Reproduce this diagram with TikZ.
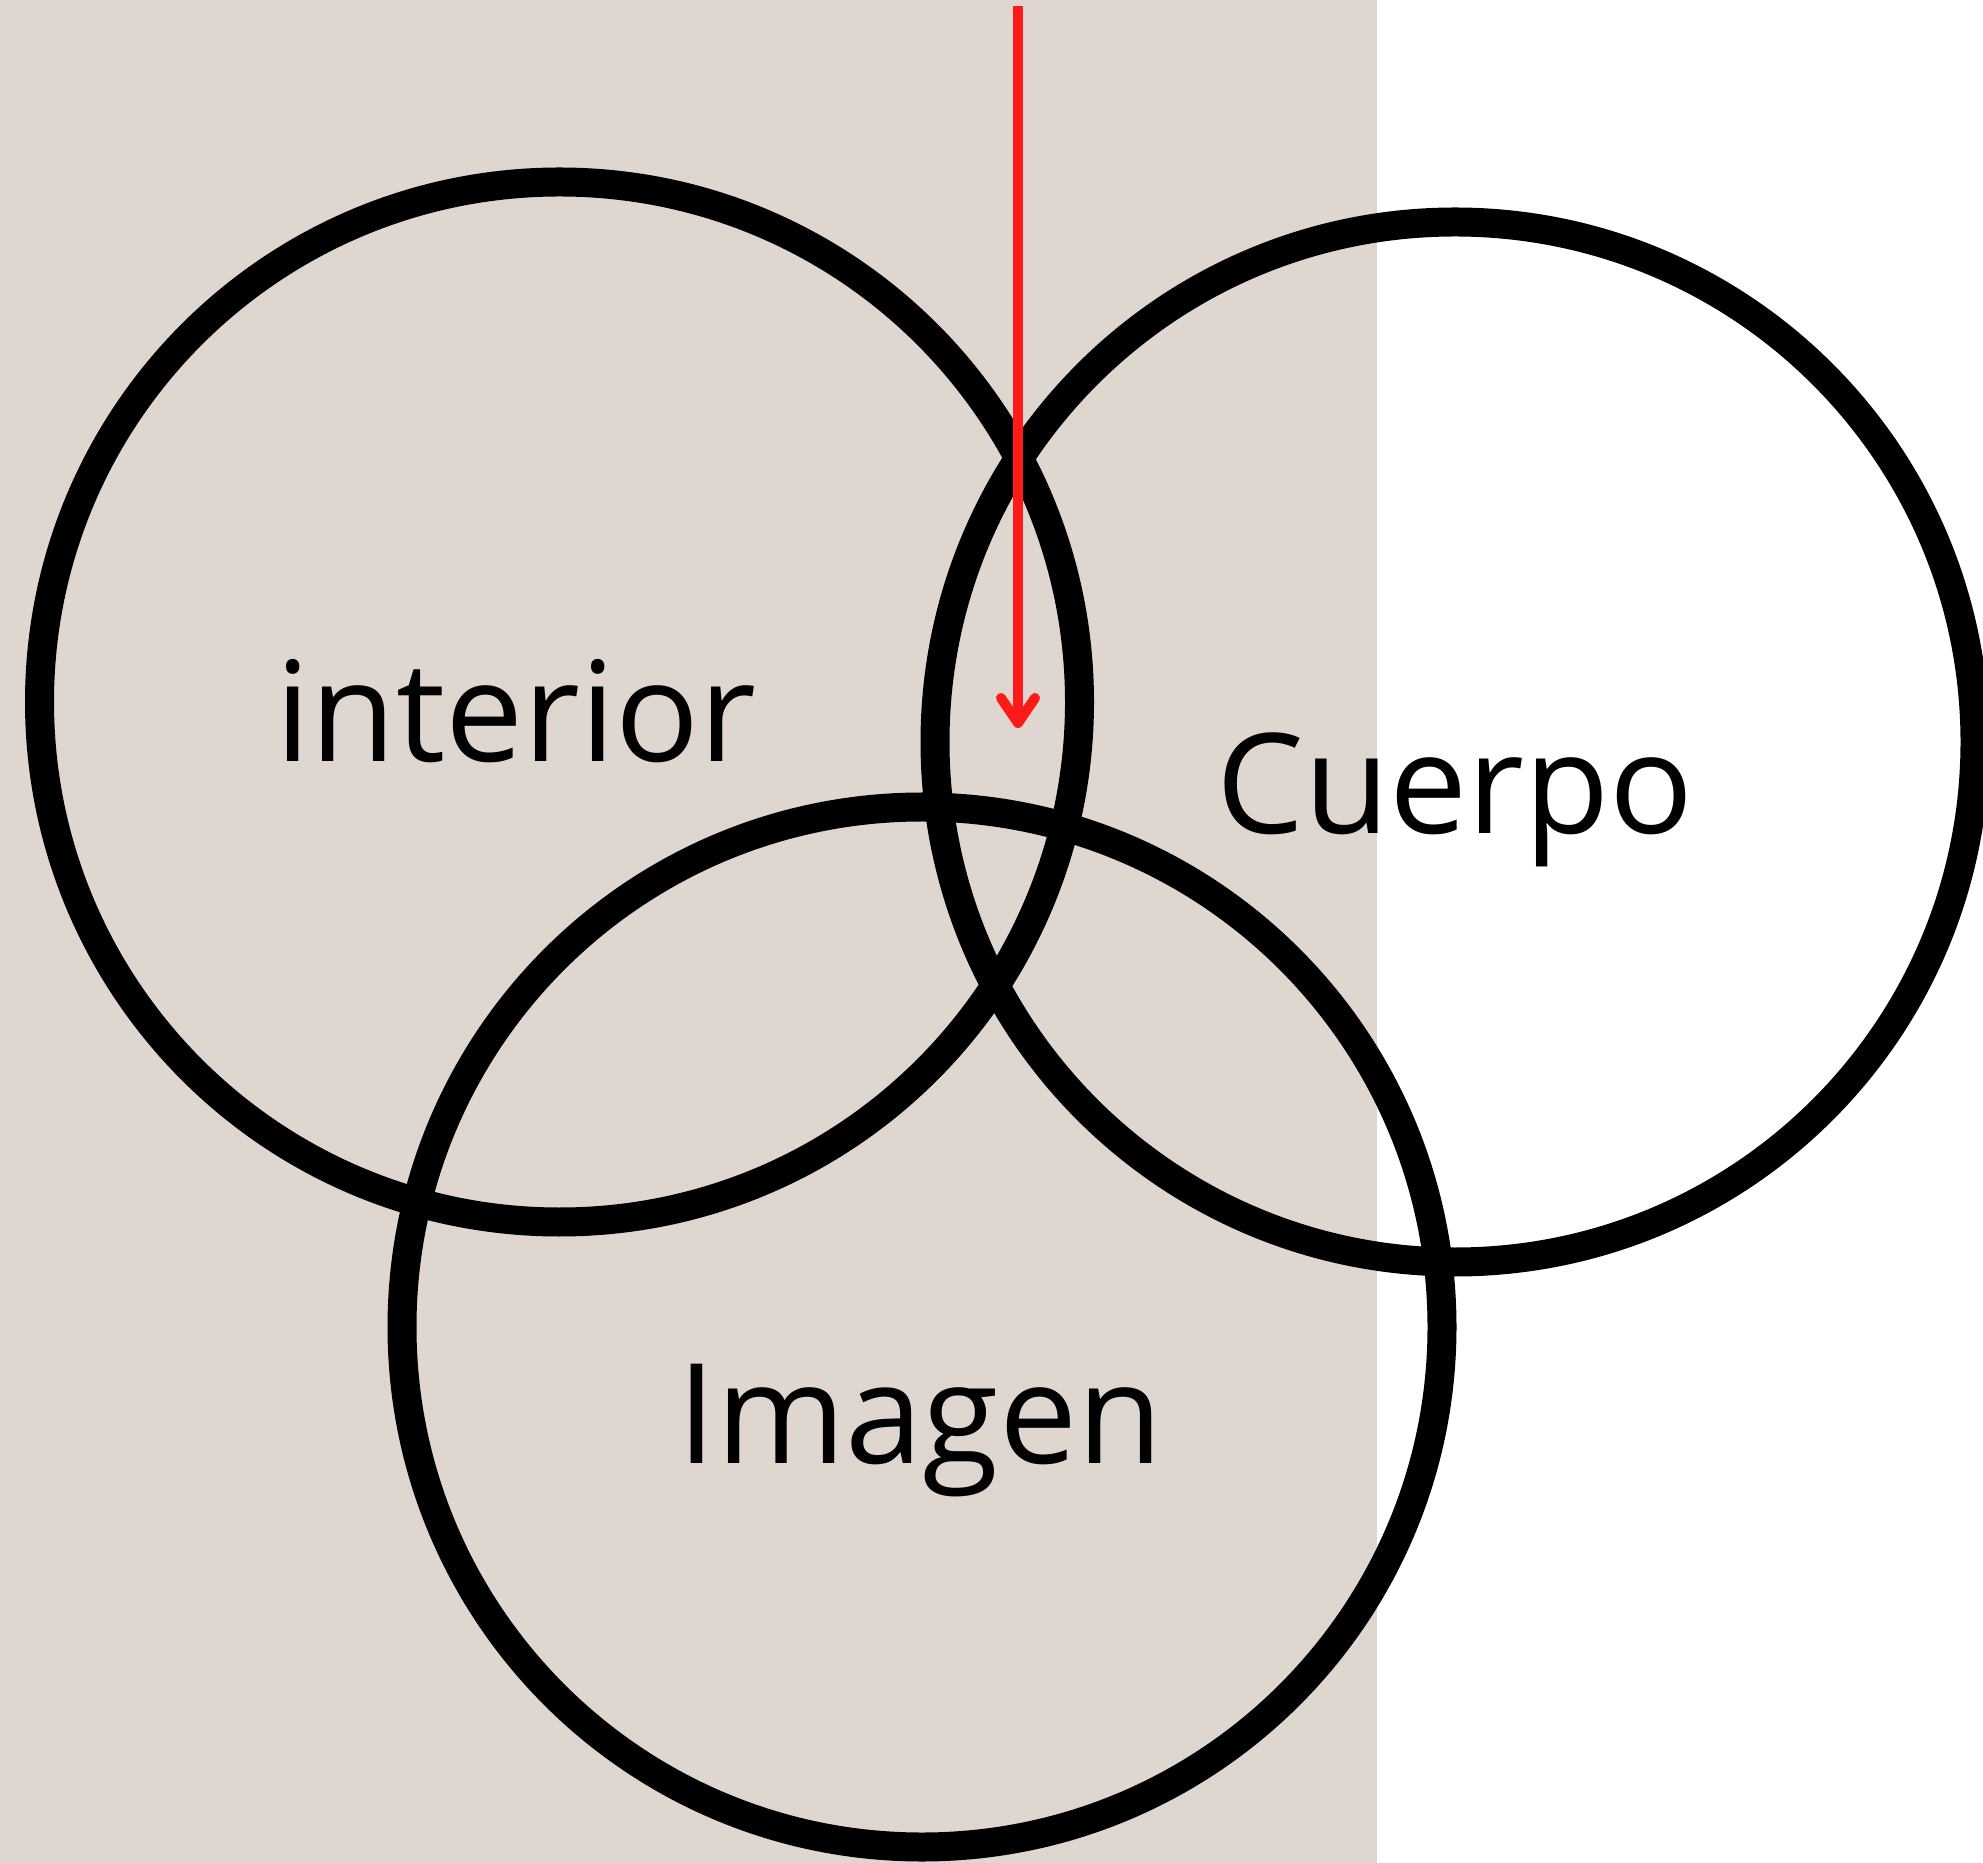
\documentclass[tikz,border=0pt]{standalone}
\usepackage{fontspec}
\setmainfont{Open Sans}
\usetikzlibrary{arrows.meta}
\definecolor{bgbeige}{RGB}{223,214,207}
\definecolor{arrowred}{RGB}{255,26,26}
\begin{document}
\begin{tikzpicture}[
  ring/.style={draw=black, line width=0.29cm},
  lbl/.style={font=\fontsize{39.6}{47}\selectfont, text=black, inner sep=0pt, anchor=base},
  redarrow/.style={draw=arrowred, line width=0.1cm, -{Straight Barb[round, length=0.25cm, width=0.34cm]}}
]
\useasboundingbox (0,0) rectangle (19.83,-18.63);
\fill[bgbeige] (0,0) rectangle (13.77,-18.63);
\draw[ring] (5.595,-7.02) circle (5.2);
\draw[ring] (14.55,-7.42) circle (5.2);
\draw[ring] (9.22,-13.27) circle (5.2);
\node[lbl] (interior) at (5.16,-7.62) {interior};
\node[lbl] (cuerpo) at (14.55,-8.34) {Cuerpo};
\node[lbl] (imagen) at (9.20,-14.63) {Imagen};
\coordinate (atop) at (10.18,-0.06);
\coordinate (atip) at (10.18,-7.28);
\draw[redarrow] (atop) -- (atip);
\end{tikzpicture}
\end{document}
